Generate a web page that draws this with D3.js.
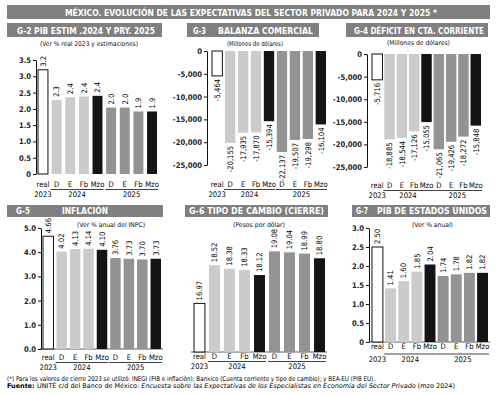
<!DOCTYPE html>
<html>
<head>
<meta charset="utf-8">
<script src="https://cdn.jsdelivr.net/npm/d3@7"></script>
<style>
body { margin: 0; background: #fff; }
text { font-family: "DejaVu Sans Condensed", "Roboto", sans-serif; }
</style>
</head>
<body>
<svg id="chart" width="500" height="395"></svg>
<script>
// categorias comunes a todas las graficas
var months = ["real", "D", "E", "Fb", "Mzo", "D", "E", "Fb", "Mzo"];
var years = ["2023", "2024", "2025"];
var kind = ["real", "a24", "a24", "a24", "mzo", "a25", "a25", "a25", "mzo"];

var pibMexico = [3.2, 2.27, 2.36, 2.38, 2.40, 2.04, 2.04, 1.92, 1.92];
var balanzaComercial = [-5464, -20155, -17935, -17870, -15394, -22137, -19507, -19298, -16104];
var deficitCuenta = [-5716, -18885, -18544, -17126, -15055, -21065, -19426, -18272, -15848];
var inflacion = [4.66, 4.02, 4.13, 4.14, 4.10, 3.76, 3.73, 3.70, 3.73];
var tipoCambio = [16.97, 18.52, 18.38, 18.33, 18.12, 19.08, 19.04, 18.99, 18.80];
var pibEU = [2.50, 1.41, 1.60, 1.85, 2.04, 1.74, 1.78, 1.82, 1.82];

// marcas de los ejes
var ticksPib = [0, 0.5, 1, 1.5, 2, 2.5, 3, 3.5];
var ticksMillones = [0, -5000, -10000, -15000, -20000, -25000];
var ticksInflacion = [0, 1, 2, 3, 4, 5];
var ticksPibEU = [0, 0.5, 1, 1.5, 2, 2.5, 3];

var colors = { real: "#ffffff", a24: "#cbcbcb", a25: "#939393", mzo: "#141414" };
var boxGray = "#808080";

var svg = d3.select("#chart");

var fmtMiles = function(d) { return d3.format(",")(d).replace("\u2212", "-"); };
var fmtUno = function(d) { return d === 0 ? "0" : d.toFixed(1); };

// titulo general
svg.append("rect").attr("x", 7).attr("y", 5).attr("width", 483).attr("height", 14).attr("fill", boxGray);
svg.append("text").attr("x", 65).attr("y", 15.8)
  .attr("textLength", 372).attr("lengthAdjust", "spacingAndGlyphs")
  .attr("font-size", 9.5).attr("font-weight", "bold").attr("fill", "#fff")
  .text("MÉXICO. EVOLUCIÓN DE LAS EXPECTATIVAS DEL SECTOR PRIVADO PARA 2024 Y 2025 *");

function panel(p) {
  var g = svg.append("g");
  var x = d3.scaleBand().domain(d3.range(months.length)).range(p.xr).paddingInner(p.pad).paddingOuter(0);
  var y = d3.scaleLinear().domain(p.dom).range(p.yr);
  var bw = x.bandwidth();
  var base = p.base;

  // cabecera gris
  g.append("rect").attr("x", p.box[0]).attr("y", p.box[1]).attr("width", p.box[2]).attr("height", p.box[3]).attr("fill", boxGray);
  p.head.forEach(function(h) {
    g.append("text").attr("x", h[1]).attr("y", p.box[1] + p.box[3] - 3)
      .attr("textLength", h[2]).attr("lengthAdjust", "spacingAndGlyphs")
      .attr("font-size", 9).attr("font-weight", "bold").attr("fill", "#fff").text(h[0]);
  });
  g.append("text").attr("x", p.sub[1]).attr("y", p.sub[2])
    .attr("textLength", p.sub[3]).attr("lengthAdjust", "spacingAndGlyphs")
    .attr("font-size", 6.5).attr("fill", "#111").text(p.sub[0]);

  if (p.baseline) {
    g.append("line").attr("x1", p.xr[0] - 3).attr("x2", p.xr[1] + 2)
      .attr("y1", y(base)).attr("y2", y(base)).attr("stroke", "#333").attr("stroke-width", 0.8);
  }

  g.selectAll("rect.bar").data(p.values).join("rect").attr("class", "bar")
    .attr("x", function(d, i) { return x(i); })
    .attr("width", bw)
    .attr("y", function(d) { return Math.min(y(d), y(base)); })
    .attr("height", function(d) { return Math.abs(y(d) - y(base)); })
    .attr("fill", function(d, i) { return colors[kind[i]]; })
    .attr("stroke", function(d, i) { return i === 0 ? "#111" : "none"; })
    .attr("stroke-width", 1);

  g.selectAll("text.val").data(p.values).join("text").attr("class", "val")
    .attr("transform", function(d, i) {
      var ty = d < base ? y(d) + 3 : y(d) - 3;
      return "translate(" + (x(i) + bw / 2) + "," + ty + ") rotate(-90)";
    })
    .attr("text-anchor", function(d) { return d < base ? "end" : "start"; })
    .attr("dy", "0.36em")
    .attr("font-size", 7.6).attr("fill", "#000")
    .text(p.fmt);

  if (p.ticks) {
    var ax = g.append("g").attr("transform", "translate(" + p.ax + ",0)")
      .call(d3.axisLeft(y).tickValues(p.ticks).tickFormat(p.tickFmt).tickSize(3).tickSizeOuter(0).tickPadding(2));
    ax.select(".domain").attr("stroke", "#111");
    ax.selectAll(".tick line").attr("stroke", "#111");
    ax.selectAll(".tick text").attr("font-size", 7.6).attr("font-weight", "bold").attr("fill", "#222")
      .style("font-family", "'DejaVu Sans Condensed', Roboto, sans-serif");
  }

  g.selectAll("text.mes").data(months).join("text").attr("class", "mes")
    .attr("x", function(d, i) { return x(i) + bw / 2; })
    .attr("y", p.my).attr("text-anchor", "middle")
    .attr("font-size", 7.6).attr("fill", "#000").text(function(d) { return d; });

  var spans = [[0, 0], [1, 4], [5, 8]];
  spans.forEach(function(s, k) {
    var x0 = x(s[0]), x1 = x(s[1]) + bw;
    if (k > 0) {
      g.append("line").attr("x1", x0 - 1).attr("x2", x1 + 1).attr("y1", p.ly).attr("y2", p.ly)
        .attr("stroke", "#111").attr("stroke-width", 0.8);
    }
    g.append("text").attr("x", (x0 + x1) / 2).attr("y", p.yy).attr("text-anchor", "middle")
      .attr("font-size", 7.6).attr("fill", "#000").text(years[k]);
  });
}

panel({
  values: pibMexico, base: 0, xr: [38, 157], pad: 0.27, dom: [0, 3.5], yr: [174, 60],
  ticks: ticksPib, tickFmt: fmtUno, ax: 36, fmt: d3.format(".1f"),
  box: [7, 23, 155, 14], head: [["G-2  PIB ESTIM .2024 Y PRY. 2025", 17, 138]],
  sub: ["(Ver % real 2023 y estimaciones)", 40, 46, 98],
  my: 187, ly: 189.5, yy: 197
});

panel({
  values: balanzaComercial, base: 0, xr: [212, 326], pad: 0.2, dom: [-25000, 0], yr: [165, 51],
  ticks: ticksMillones, tickFmt: fmtMiles, ax: 207, fmt: fmtMiles,
  box: [187, 23, 132, 14], head: [["G-3", 193, 13], ["BALANZA COMERCIAL", 218, 95]],
  sub: ["(Millones de dólares)", 227, 46, 56],
  my: 187, ly: 189.5, yy: 197
});

panel({
  values: deficitCuenta, base: 0, xr: [372, 481], pad: 0.15, dom: [-25000, 0], yr: [167, 54],
  ticks: ticksMillones, tickFmt: fmtMiles, ax: 367, fmt: fmtMiles,
  box: [346, 23, 142, 14], head: [["G-4  DÉFICIT EN CTA. CORRIENTE", 354, 130]],
  sub: ["(Millones de dólares)", 387, 45, 63],
  my: 188, ly: 190.5, yy: 198
});

panel({
  values: inflacion, base: 0, xr: [43, 161], pad: 0.22, dom: [0, 5], yr: [349, 228],
  ticks: ticksInflacion, tickFmt: function(d) { return d.toFixed(1); }, ax: 41, fmt: d3.format(".2f"),
  box: [7, 205, 156, 12], head: [["G-5", 16, 14], ["INFLACIÓN", 62, 46]],
  sub: ["(Ver % anual del INPC)", 77, 227, 68], baseline: true,
  my: 360, ly: 362.5, yy: 370
});

panel({
  values: tipoCambio, base: 15, xr: [194, 325], pad: 0.27, dom: [15, 19.5], yr: [352, 241],
  ticks: null, fmt: d3.format(".2f"),
  box: [185, 205, 143, 12], head: [["G-6 TIPO DE CAMBIO (CIERRE)", 189, 135]],
  sub: ["(Pesos por dólar)", 233, 227, 52], baseline: true,
  my: 359, ly: 361.5, yy: 369
});

panel({
  values: pibEU, base: 0, xr: [372, 488], pad: 0.17, dom: [0, 3], yr: [342, 228],
  ticks: ticksPibEU, tickFmt: fmtUno, ax: 369, fmt: d3.format(".2f"),
  box: [352, 205, 138, 12], head: [["G-7", 356, 12], ["PIB DE ESTADOS UNIDOS", 377, 110]],
  sub: ["(Ver % anual)", 412, 227, 41], baseline: true,
  my: 349, ly: 354, yy: 362
});

// notas al pie
svg.append("text").attr("x", 7).attr("y", 381)
  .attr("textLength", 368).attr("lengthAdjust", "spacingAndGlyphs")
  .attr("font-size", 6.5).attr("fill", "#000")
  .text("(*) Para los valores de cierre 2023 se utilizó: INEGI (PIB e inflación); Banxico (Cuenta corriente y tipo de cambio); y BEA-EU (PIB EU).");

var nota = svg.append("text").attr("x", 7).attr("y", 388)
  .attr("textLength", 448).attr("lengthAdjust", "spacingAndGlyphs")
  .attr("font-size", 6.5).attr("fill", "#000");
nota.append("tspan").attr("font-weight", "bold").text("Fuente: ");
nota.append("tspan").text("UNITÉ c/d del Banco de México: ");
nota.append("tspan").attr("font-style", "italic").text("Encuesta sobre las Expectativas de los Especialistas en Economía del Sector Privado");
nota.append("tspan").text(" (mzo 2024)");
</script>
</body>
</html>
